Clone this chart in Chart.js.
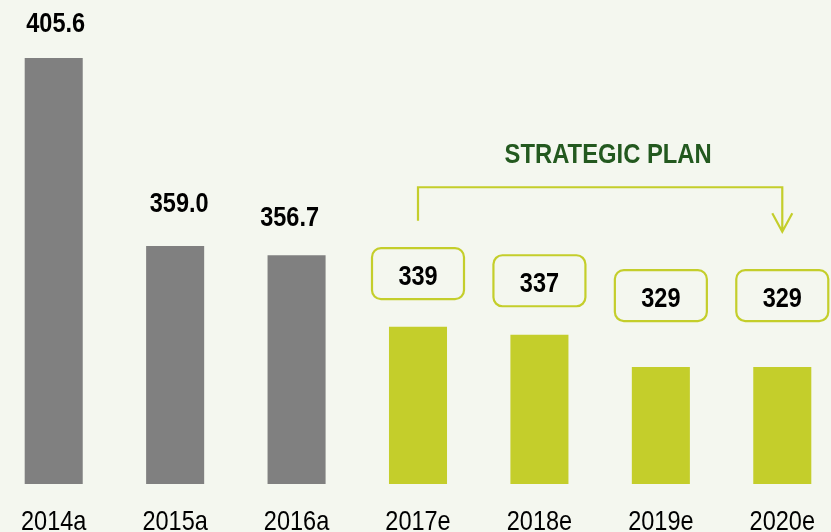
<!DOCTYPE html>
<html>
<head>
<meta charset="utf-8">
<script src="https://cdn.jsdelivr.net/npm/chart.js@4/dist/chart.umd.min.js"></script>
<style>
  html, body { margin: 0; padding: 0; background: #f4f7ef; }
  #wrap { position: relative; width: 831px; height: 532px; overflow: hidden; }
  #chart { position: absolute; left: -7px; top: 0; }
</style>
</head>
<body>
<div id="wrap"><canvas id="chart" width="850" height="532"></canvas></div>
<script>
// Values
const categories = ["2014a", "2015a", "2016a", "2017e", "2018e", "2019e", "2020e"];
const values = [405.6, 359.0, 356.7, 339, 337, 329, 329];
const valueLabels = ["405.6", "359.0", "356.7", "339", "337", "329", "329"];
const isForecast = [false, false, false, true, true, true, true];

const grey = "#808080";
const lime = "#c4ce2b";
const darkGreen = "#23591f";
const font = "'Liberation Sans', Arial, sans-serif";
const squeeze = 0.84; // fake an Arial Narrow look

function narrowText(ctx, text, x, y, sx) {
    ctx.save();
    ctx.translate(x, y);
    ctx.scale(sx || squeeze, 1);
    ctx.fillText(text, 0, 0);
    ctx.restore();
}

// labels above bars: plain text for actuals, rounded box for estimates
const valueLabelPlugin = {
    id: "valueLabels",
    afterDatasetsDraw(chart, args, opts) {
        const ctx = chart.ctx;
        const meta = chart.getDatasetMeta(0);
        ctx.save();
        ctx.font = "bold 28px " + font;
        ctx.textAlign = "center";
        ctx.textBaseline = "alphabetic";
        ctx.fillStyle = "#000";
        meta.data.forEach((bar, i) => {
            const off = opts.offsets[i];
            if (isForecast[i]) {
                const cy = bar.y - off;
                ctx.beginPath();
                ctx.roundRect(bar.x - 46, cy - 25.5, 92, 51, 9);
                ctx.lineWidth = 2.2;
                ctx.strokeStyle = lime;
                ctx.stroke();
                narrowText(ctx, valueLabels[i], bar.x, cy + 11.5);
            } else {
                narrowText(ctx, valueLabels[i], bar.x + opts.shift[i], bar.y - off);
            }
        });
        // category labels
        ctx.font = "28px " + font;
        const xs = chart.scales.x;
        categories.forEach((c, i) => {
            narrowText(ctx, c, xs.getPixelForValue(i), chart.chartArea.bottom + 45.5);
        });
        ctx.restore();
    }
};

// "STRATEGIC PLAN" bracket from the first to the last estimate
const planPlugin = {
    id: "plan",
    afterDatasetsDraw(chart) {
        const ctx = chart.ctx;
        const x = chart.scales.x, y = chart.scales.y;
        const x0 = x.getPixelForValue(3), x1 = x.getPixelForValue(6);
        const top = y.getPixelForValue(373.57);
        const leftEnd = y.getPixelForValue(365.28);
        const tip = y.getPixelForValue(362.56);
        const arm = y.getPixelForValue(367.12);
        ctx.save();
        ctx.strokeStyle = lime;
        ctx.lineWidth = 2.2;
        ctx.beginPath();
        ctx.moveTo(x0, leftEnd);
        ctx.lineTo(x0, top);
        ctx.lineTo(x1, top);
        ctx.lineTo(x1, tip);
        ctx.moveTo(x1 - 10, arm);
        ctx.lineTo(x1, tip);
        ctx.lineTo(x1 + 10, arm);
        ctx.stroke();
        ctx.fillStyle = darkGreen;
        ctx.font = "bold 28px " + font;
        ctx.textAlign = "center";
        ctx.textBaseline = "alphabetic";
        narrowText(ctx, "STRATEGIC PLAN", (x0 + x1) / 2 + 8, y.getPixelForValue(379.5), 0.85);
        ctx.restore();
    }
};

new Chart(document.getElementById("chart"), {
    type: "bar",
    data: {
        labels: categories,
        datasets: [{
            data: values,
            backgroundColor: isForecast.map(f => f ? lime : grey),
            categoryPercentage: 1,
            barPercentage: 0.478
        }]
    },
    options: {
        responsive: false,
        animation: false,
        layout: { padding: { top: 0, bottom: 48, left: 0, right: 0 } },
        plugins: {
            legend: { display: false },
            tooltip: { enabled: false },
            valueLabels: {
                offsets: [26, 34, 29, 53, 54, 71.5, 71.5],
                shift: [2, 4, -7, 0, 0, 0, 0]
            }
        },
        scales: {
            x: { display: false },
            y: {
                display: false,
                min: 300,
                max: 420
            }
        }
    },
    plugins: [valueLabelPlugin, planPlugin]
});
</script>
</body>
</html>
